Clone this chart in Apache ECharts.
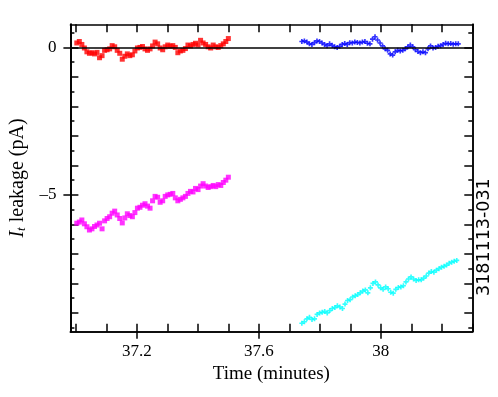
<!DOCTYPE html>
<html>
<head>
<meta charset="utf-8">
<script src="https://cdn.jsdelivr.net/npm/echarts@6/dist/echarts.min.js"></script>
<style>
  html, body { margin: 0; padding: 0; background: #fff; }
  #chart { width: 498px; height: 397px; }
</style>
</head>
<body>
<div id="chart"></div>
<script>
// time windows (minutes) of the four runs
var redRange = [37.003, 37.5];
var magentaRange = [37.003, 37.5];
var blueRange = [37.741, 38.254];
var cyanRange = [37.741, 38.249];

// leakage current (pA)
var redValues = [0.15, 0.2, 0.1, -0.02, -0.15, -0.2, -0.18, -0.22, -0.17, -0.35,
  -0.28, -0.1, -0.08, -0.05, 0.06, 0.02, -0.1, -0.2, -0.4, -0.3,
  -0.22, -0.28, -0.25, -0.12, -0.02, 0.0, 0.03, -0.05, -0.1, -0.05,
  0.05, 0.18, 0.12, -0.02, -0.08, 0.02, 0.08, 0.04, 0.06, 0.0,
  -0.18, -0.12, -0.1, -0.04, 0.08, 0.05, 0.1, 0.14, 0.08, 0.24,
  0.15, 0.1, 0.02, -0.02, 0.08, 0.02, 0.0, 0.06, 0.12, 0.2, 0.3];
var magentaValues = [-5.96, -5.92, -5.85, -5.98, -6.08, -6.19, -6.15, -6.07, -6.02, -5.96,
  -6.15, -5.88, -5.8, -5.74, -5.62, -5.55, -5.68, -5.8, -5.95, -5.78,
  -5.64, -5.7, -5.74, -5.6, -5.45, -5.42, -5.35, -5.3, -5.38, -5.45,
  -5.2, -5.05, -5.08, -5.25, -5.2, -5.05, -5.0, -4.98, -4.95, -5.1,
  -5.2, -5.15, -5.1, -5.05, -4.95, -4.88, -4.9, -4.78, -4.82, -4.7,
  -4.62, -4.7, -4.75, -4.72, -4.68, -4.72, -4.65, -4.68, -4.58, -4.5, -4.4];
var blueValues = [0.2, 0.22, 0.18, 0.12, 0.1, 0.16, 0.22, 0.2, 0.15, 0.1,
  0.06, 0.12, 0.07, 0.02, 0.0, 0.04, 0.1, 0.13, 0.1, 0.16,
  0.15, 0.18, 0.17, 0.15, 0.18, 0.2, 0.14, 0.12, 0.28, 0.36,
  0.25, 0.15, 0.05, -0.05, -0.1, -0.22, -0.26, -0.15, -0.1, -0.12,
  -0.1, -0.05, 0.02, 0.08, 0.02, -0.08, -0.14, -0.18, -0.15, -0.18,
  -0.05, 0.05, -0.02, 0.0, 0.04, 0.06, 0.1, 0.14, 0.12, 0.13, 0.11, 0.12, 0.12];
var cyanValues = [-9.35, -9.3, -9.2, -9.15, -9.22, -9.2, -9.05, -9.0, -8.98, -8.95,
  -9.0, -8.92, -8.85, -8.82, -8.76, -8.8, -8.85, -8.7, -8.58, -8.55,
  -8.46, -8.42, -8.38, -8.32, -8.26, -8.22, -8.32, -8.15, -8.0, -7.95,
  -8.05, -8.15, -8.2, -8.12, -8.18, -8.3, -8.33, -8.2, -8.14, -8.12,
  -8.08, -7.95, -7.85, -7.78, -7.85, -7.9, -7.88, -7.88, -7.82, -7.75,
  -7.65, -7.6, -7.62, -7.55, -7.5, -7.45, -7.42, -7.38, -7.32, -7.28, -7.25, -7.22];

// axis ticks and labels
var xLabels = [37.2, 37.6, 38];
var xTicks = [37.0, 37.1, 37.2, 37.3, 37.4, 37.5, 37.6, 37.7, 37.8, 37.9, 38.0, 38.1, 38.2, 38.3];
var yLabels = [-5, 0];
var yTicks = [-9, -8, -7, -6, -5, -4, -3, -2, -1, 0];
var yHalfTicks = [-9.5, -8.5, -7.5, -6.5, -5.5, -4.5, -3.5, -2.5, -1.5, -0.5, 0.5];

var X_MIN = 36.982, X_MAX = 38.3;
var Y_MIN = -9.637, Y_MAX = 0.783;
var SERIF = '"Liberation Serif", "DejaVu Serif", serif';

function toPoints(range, values) {
    var step = (range[1] - range[0]) / (values.length - 1);
    return values.map(function (v, i) {
        return [range[0] + i * step, v];
    });
}

function xAx(pos, ticks, len, inside, labels) {
    return {
        type: 'value', position: pos, min: X_MIN, max: X_MAX,
        axisLine: { show: true, onZero: false, lineStyle: { color: '#000', width: 1.5 } },
        axisTick: { show: true, inside: inside, length: len, customValues: ticks, lineStyle: { color: '#000', width: 1.5 } },
        axisLabel: labels ? {
            show: true, customValues: labels, margin: 11, color: '#000',
            fontFamily: SERIF, fontSize: 17,
            formatter: function (v) { return String(+v.toFixed(1)); }
        } : { show: false },
        splitLine: { show: false }
    };
}

function yAx(pos, ticks, len, inside, labels) {
    return {
        type: 'value', position: pos, min: Y_MIN, max: Y_MAX,
        axisLine: { show: true, onZero: false, lineStyle: { color: '#000', width: 1.5 } },
        axisTick: { show: true, inside: inside, length: len, customValues: ticks, lineStyle: { color: '#000', width: 1.5 } },
        axisLabel: labels ? {
            show: true, customValues: labels, margin: 14, color: '#000',
            fontFamily: SERIF, fontSize: 17,
            formatter: function (v) { return v < 0 ? '\u2013' + Math.abs(v) : String(v); }
        } : { show: false },
        splitLine: { show: false }
    };
}

var chart = echarts.init(document.getElementById('chart'));

var xAxes = [
    xAx('bottom', xLabels, 7, false, xLabels),
    xAx('bottom', xTicks, 8, true),
    xAx('top', xTicks, 8, true)
];
xAxes[0].name = 'Time (minutes)';
xAxes[0].nameLocation = 'middle';
xAxes[0].nameGap = 31;
xAxes[0].nameTextStyle = { color: '#000', fontFamily: SERIF, fontSize: 19 };

var yAxes = [
    yAx('left', yLabels, 7, false, yLabels),
    yAx('left', yTicks, 8, true),
    yAx('left', yHalfTicks, 4, true),
    yAx('right', yTicks, 8, true),
    yAx('right', yHalfTicks, 4, true)
];
yAxes[0].name = '{i|I}{s|t} leakage (pA)';
yAxes[0].nameLocation = 'middle';
yAxes[0].nameGap = 32;
yAxes[0].nameRotate = 90;
yAxes[0].nameTextStyle = {
    color: '#000', fontFamily: SERIF, fontSize: 20,
    rich: {
        i: { fontFamily: SERIF, fontSize: 20, fontStyle: 'italic', color: '#000' },
        s: { fontFamily: SERIF, fontSize: 13, fontStyle: 'italic', color: '#000', verticalAlign: 'bottom', padding: [8, 0, 0, 0] }
    }
};

var crossPath = 'path://M1,0H2V1H3V2H2V3H1V2H0V1H1Z';

chart.setOption({
    animation: false,
    grid: { left: 66, right: 25.7, top: 24.3, bottom: 65.3, containLabel: false },
    xAxis: xAxes,
    yAxis: yAxes,
    graphic: [{
        type: 'text', x: 475, y: 296, rotation: Math.PI / 2,
        style: { text: '3181113-031', fill: '#000', font: '17.5px "DejaVu Sans", sans-serif' }
    }],
    series: [
        {
            type: 'scatter', name: 'red', data: toPoints(redRange, redValues),
            symbol: 'rect', symbolSize: 5, itemStyle: { color: '#ff0000' },
            markLine: {
                silent: true, symbol: 'none', label: { show: false },
                lineStyle: { color: '#000', width: 1.5, type: 'solid' },
                data: [{ yAxis: 0 }]
            }
        },
        {
            type: 'scatter', name: 'magenta', data: toPoints(magentaRange, magentaValues),
            symbol: 'rect', symbolSize: 5, itemStyle: { color: '#ff00ff' }
        },
        {
            type: 'scatter', name: 'blue', data: toPoints(blueRange, blueValues),
            symbol: crossPath, symbolSize: 5, itemStyle: { color: '#0000ff' }
        },
        {
            type: 'scatter', name: 'cyan', data: toPoints(cyanRange, cyanValues),
            symbol: crossPath, symbolSize: 5, itemStyle: { color: '#00ffff' }
        }
    ]
});
</script>
</body>
</html>
